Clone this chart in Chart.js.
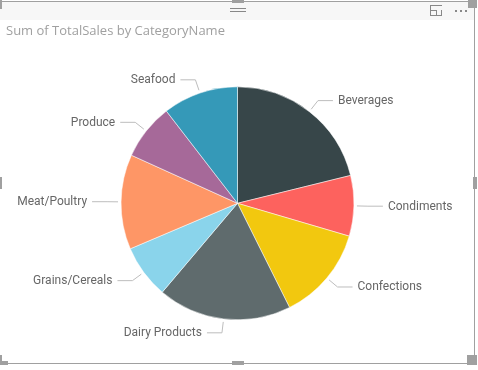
<!DOCTYPE html>
<html>
<head>
<meta charset="utf-8">
<script src="https://cdn.jsdelivr.net/npm/chart.js@4.4.1/dist/chart.umd.min.js"></script>
<style>
    body { margin: 0; background: #fff; width: 478px; height: 370px; overflow: hidden; position: relative; }
    .f { position: absolute; background: #a0a0a0; }
    #bar { position: absolute; left: 0; top: 2px; width: 474px; height: 18px; background: #f7f7f7; }
    #chart { position: absolute; left: 0; top: 0; }
    .grip { position: absolute; left: 230px; width: 16px; height: 1px; background: #888; }
    .ic { position: absolute; background: #888; }
</style>
</head>
<body>
<div id="bar"></div>
<div class="grip" style="top:8px"></div>
<div class="grip" style="top:11px"></div>
<!-- expand icon -->
<div class="ic" style="left:430px;top:5px;width:12px;height:1px"></div>
<div class="ic" style="left:430px;top:5px;width:1px;height:11px"></div>
<div class="ic" style="left:430px;top:15px;width:12px;height:1px"></div>
<div class="ic" style="left:441px;top:10px;width:1px;height:6px"></div>
<div class="ic" style="left:430px;top:10px;width:6px;height:1px"></div>
<div class="ic" style="left:436px;top:10px;width:1px;height:6px"></div>
<!-- more dots -->
<div class="ic" style="left:455px;top:10px;width:2px;height:2px"></div>
<div class="ic" style="left:460px;top:10px;width:2px;height:2px"></div>
<div class="ic" style="left:465px;top:10px;width:2px;height:2px"></div>

<div class="f" style="left:0;top:1px;width:475px;height:1px"></div>
<div class="f" style="left:474px;top:0;width:1px;height:364px"></div>
<div class="f" style="left:0;top:363px;width:475px;height:1px"></div>
<div class="f" style="left:0;top:0;width:2px;height:9px"></div>
<div class="f" style="left:468px;top:0;width:9px;height:8px"></div>
<div class="f" style="left:232px;top:0;width:12px;height:3px"></div>
<div class="f" style="left:0;top:355px;width:2px;height:10px"></div>
<div class="f" style="left:0;top:361px;width:8px;height:4px"></div>
<div class="f" style="left:467px;top:355px;width:10px;height:10px"></div>
<div class="f" style="left:232px;top:361px;width:12px;height:4px"></div>
<div class="f" style="left:473px;top:177px;width:4px;height:12px"></div>
<div class="f" style="left:0;top:177px;width:2px;height:12px"></div>

<canvas id="chart" width="478" height="370"></canvas>

<script>
const categories = ['Beverages', 'Condiments', 'Confections', 'Dairy Products', 'Grains/Cereals', 'Meat/Poultry', 'Produce', 'Seafood'];
const totalSales = [286527, 113695, 177099, 251331, 100727, 178189, 105269, 141623];
const colors = ['#374649', '#FD625E', '#F2C80F', '#5F6B6D', '#8AD4EB', '#FE9666', '#A66999', '#3599B8'];

// labels outside the pie with a bent leader line, like Power BI does
const outsideLabels = {
    id: 'outsideLabels',
    afterDatasetsDraw(chart) {
        const ctx = chart.ctx;
        const meta = chart.getDatasetMeta(0);
        ctx.save();
        ctx.font = '12px Roboto, sans-serif';
        ctx.textBaseline = 'middle';
        meta.data.forEach((arc, i) => {
            const p = arc.getProps(['x', 'y', 'startAngle', 'endAngle', 'outerRadius'], true);
            const mid = (p.startAngle + p.endAngle) / 2;
            const cos = Math.cos(mid), sin = Math.sin(mid);
            const x0 = p.x + cos * (p.outerRadius + 3);
            const y0 = p.y + sin * (p.outerRadius + 3);
            const x1 = p.x + cos * (p.outerRadius + 14);
            const y1 = p.y + sin * (p.outerRadius + 14);
            const right = cos >= 0;
            const x2 = x1 + (right ? 15 : -15);
            ctx.strokeStyle = '#bdbdbd';
            ctx.lineWidth = 1;
            ctx.beginPath();
            ctx.moveTo(x0, y0);
            ctx.lineTo(x1, y1);
            ctx.lineTo(x2, y1);
            ctx.stroke();
            ctx.fillStyle = '#666666';
            ctx.textAlign = right ? 'left' : 'right';
            ctx.fillText(chart.data.labels[i], x2 + (right ? 5 : -5), y1 + 0.5);
        });
        ctx.restore();
    }
};

new Chart(document.getElementById('chart'), {
    type: 'pie',
    data: {
        labels: categories,
        datasets: [{
            label: 'Sum of TotalSales',
            data: totalSales,
            backgroundColor: colors,
            borderColor: '#ffffff',
            borderWidth: 0.5
        }]
    },
    options: {
        responsive: false,
        animation: false,
        layout: {
            padding: { left: 6, right: 9, top: 0, bottom: 50 }
        },
        plugins: {
            legend: { display: false },
            tooltip: { enabled: false },
            title: {
                display: true,
                text: 'Sum of TotalSales by CategoryName',
                align: 'start',
                color: '#a0a0a0',
                font: { family: '"Open Sans", sans-serif', size: 13, weight: 'normal' },
                padding: { top: 23, bottom: 48 }
            }
        }
    },
    plugins: [outsideLabels]
});
</script>
</body>
</html>
